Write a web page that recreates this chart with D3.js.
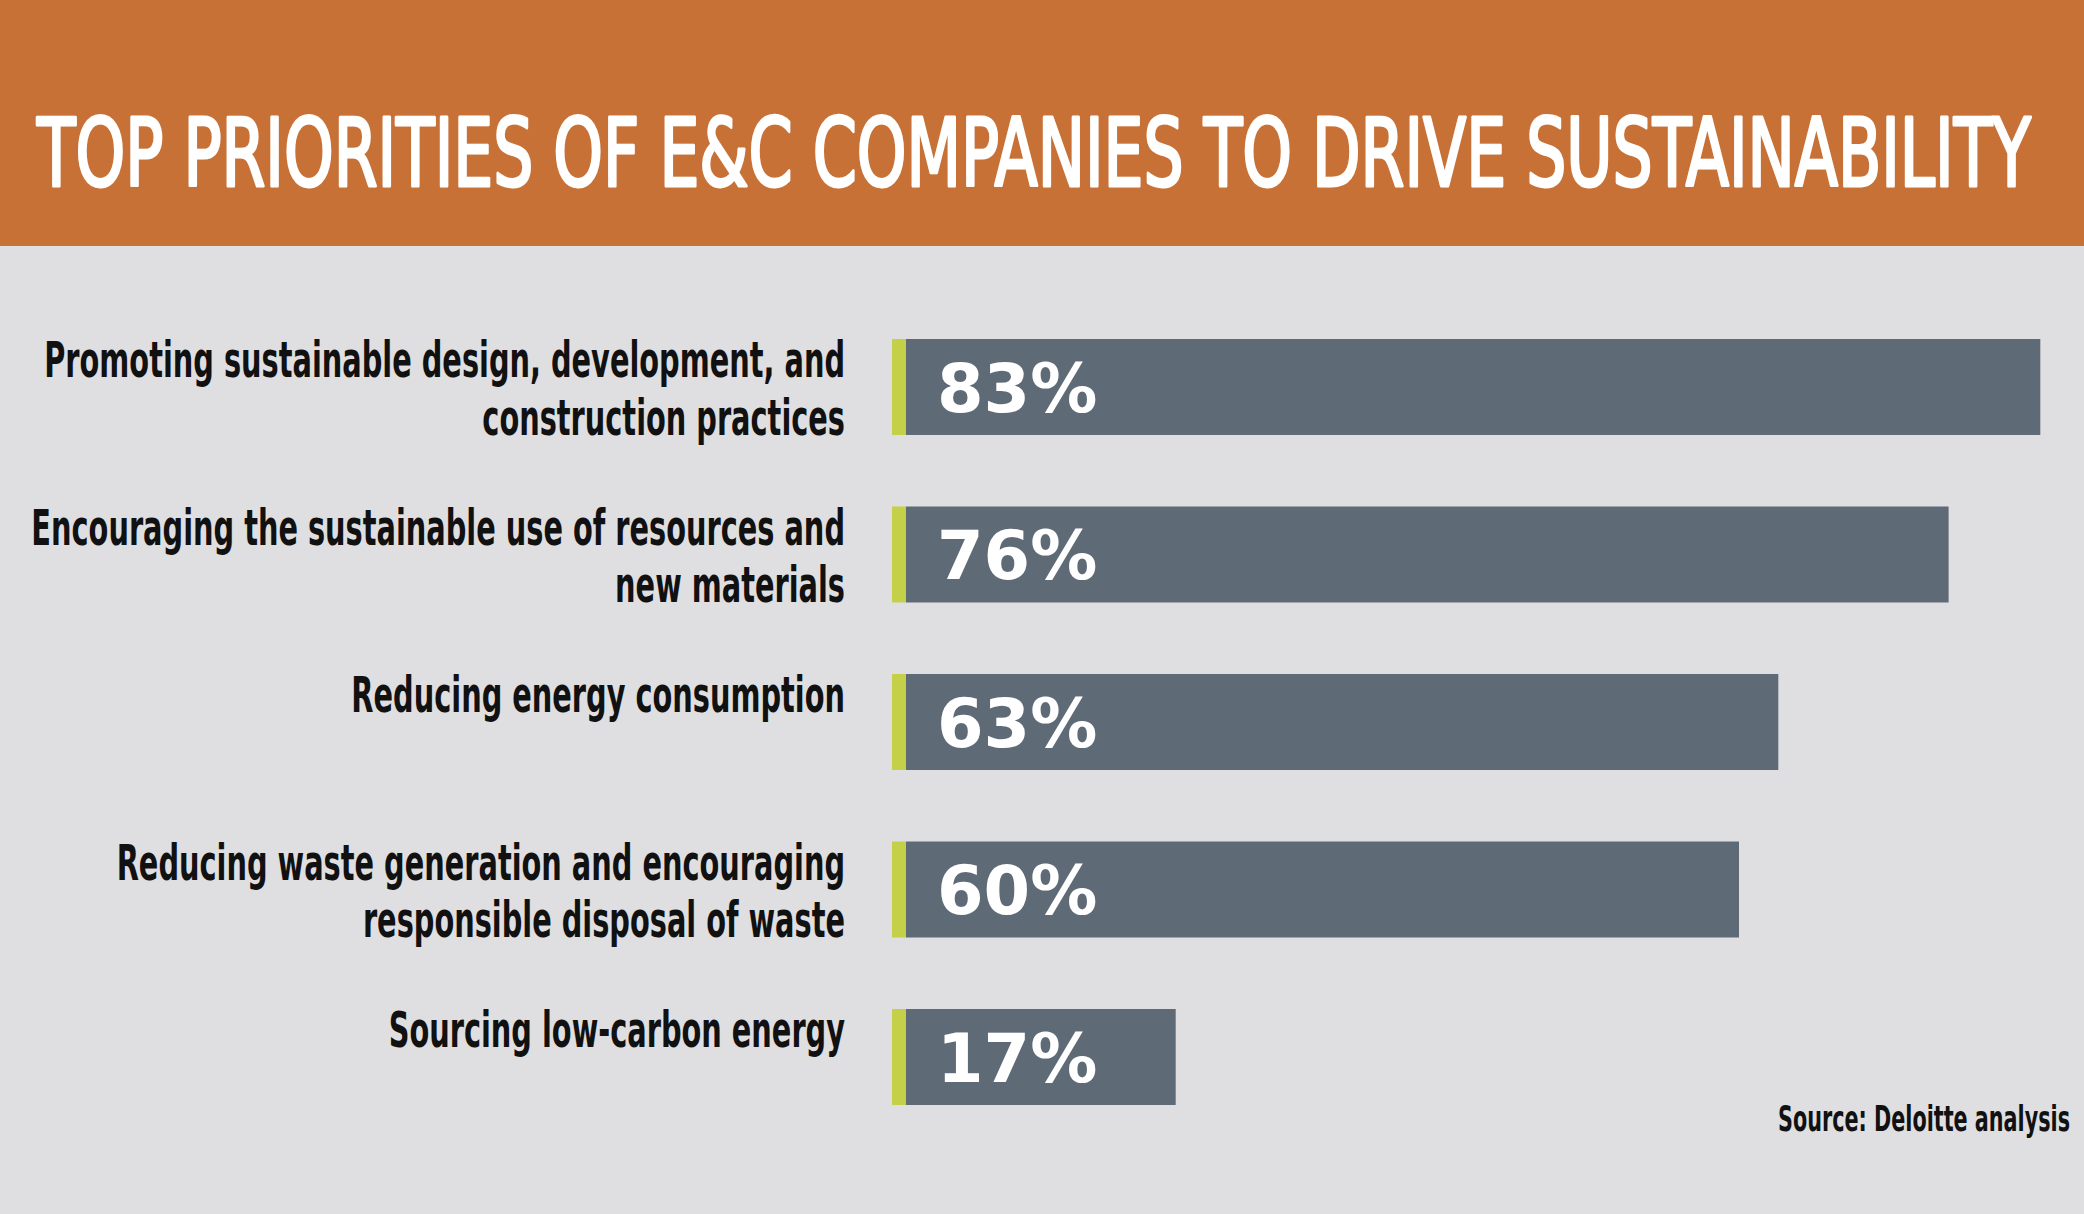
<!DOCTYPE html>
<html>
<head>
<meta charset="utf-8">
<script src="https://cdn.jsdelivr.net/npm/d3@7"></script>
<style>
  html, body { margin: 0; padding: 0; background: #dfdfe1; }
  svg { display: block; }
</style>
</head>
<body>
<svg id="chart" width="2084" height="1214"></svg>
<script>
// data
const title = "TOP PRIORITIES OF E&C COMPANIES TO DRIVE SUSTAINABILITY";
const source = "Source: Deloitte analysis";
const categories = [
  ["Promoting sustainable design, development, and", "construction practices"],
  ["Encouraging the sustainable use of resources and", "new materials"],
  ["Reducing energy consumption"],
  ["Reducing waste generation and encouraging", "responsible disposal of waste"],
  ["Sourcing low-carbon energy"]
];
const values = [83, 76, 63, 60, 17];

const width = 2084,
      height = 1214;

const colors = {
  header: "#c77136",
  back: "#dfdfe1",
  bar: "#5f6a77",
  accent: "#c4d047",
  text: "#111111"
};

const narrow = "'Liberation Sans Narrow', 'DejaVu Sans Condensed', 'Roboto Condensed', sans-serif";

const svg = d3.select("#chart");

svg.append("rect")
    .attr("width", width)
    .attr("height", height)
    .attr("fill", colors.back);

// header band
svg.append("rect")
    .attr("width", width)
    .attr("height", 246)
    .attr("fill", colors.header);

const titleText = svg.append("text")
    .attr("x", 0)
    .attr("y", 186)
    .attr("fill", "#ffffff")
    .attr("font-family", narrow)
    .attr("font-size", 95)
    .attr("stroke", "#ffffff")
    .attr("stroke-width", 3)
    .attr("stroke-linejoin", "round")
    .text(title);

// squeeze the title to the width of the original lettering
let titleScale = 1994 / titleText.node().getComputedTextLength();
titleText.attr("transform", `translate(37,0) scale(${titleScale},1)`);

// scales
const ids = d3.range(values.length);

const yScale = d3.scaleBand()
    .domain(ids)
    .range([339, 339 + 4 * 167.5 + 96])
    .paddingInner(0.427)
    .paddingOuter(0);

const xScale = d3.scaleLinear()
    .domain([0, 100])
    .range([953, 953 + 1310]);

const accentLeft = 892,
      accentWidth = 14,
      barLeft = accentLeft + accentWidth,
      labelRight = 845;

const rows = svg.append("g")
  .selectAll("g")
  .data(ids)
  .join("g")
    .attr("transform", d => `translate(0,${yScale(d)})`);

rows.append("rect")
    .attr("x", barLeft)
    .attr("y", 0)
    .attr("width", d => xScale(values[d]) - barLeft)
    .attr("height", yScale.bandwidth())
    .attr("fill", colors.bar);

rows.append("rect")
    .attr("x", accentLeft)
    .attr("y", 0)
    .attr("width", accentWidth)
    .attr("height", yScale.bandwidth())
    .attr("fill", colors.accent);

rows.append("text")
    .attr("x", 937)
    .attr("y", yScale.bandwidth() / 2 + 25)
    .attr("fill", "#ffffff")
    .attr("font-family", "'DejaVu Sans', sans-serif")
    .attr("font-weight", "bold")
    .attr("font-size", 67)
    .text(d => values[d] + "%");

// category labels, right aligned and squeezed to a condensed look
const labels = rows.append("g")
    .attr("class", "label");

labels.append("text")
    .attr("text-anchor", "end")
    .attr("fill", colors.text)
    .attr("font-family", narrow)
    .attr("font-weight", "bold")
    .attr("font-size", 50)
  .selectAll("tspan")
  .data(d => categories[d])
  .join("tspan")
    .attr("x", 0)
    .attr("y", (d, i) => 38 + i * 58)
    .text(d => d);

let refWidth = labels.filter(d => d === 0).select("tspan").node().getComputedTextLength();
let squeeze = 801 / refWidth;

labels.attr("transform", `translate(${labelRight},0) scale(${squeeze},1)`);

// source note
svg.append("text")
    .attr("x", 0)
    .attr("y", 1131)
    .attr("text-anchor", "end")
    .attr("fill", colors.text)
    .attr("font-family", narrow)
    .attr("font-weight", "bold")
    .attr("font-size", 36)
    .attr("transform", `translate(2070,0) scale(${squeeze},1)`)
    .text(source);
</script>
</body>
</html>
